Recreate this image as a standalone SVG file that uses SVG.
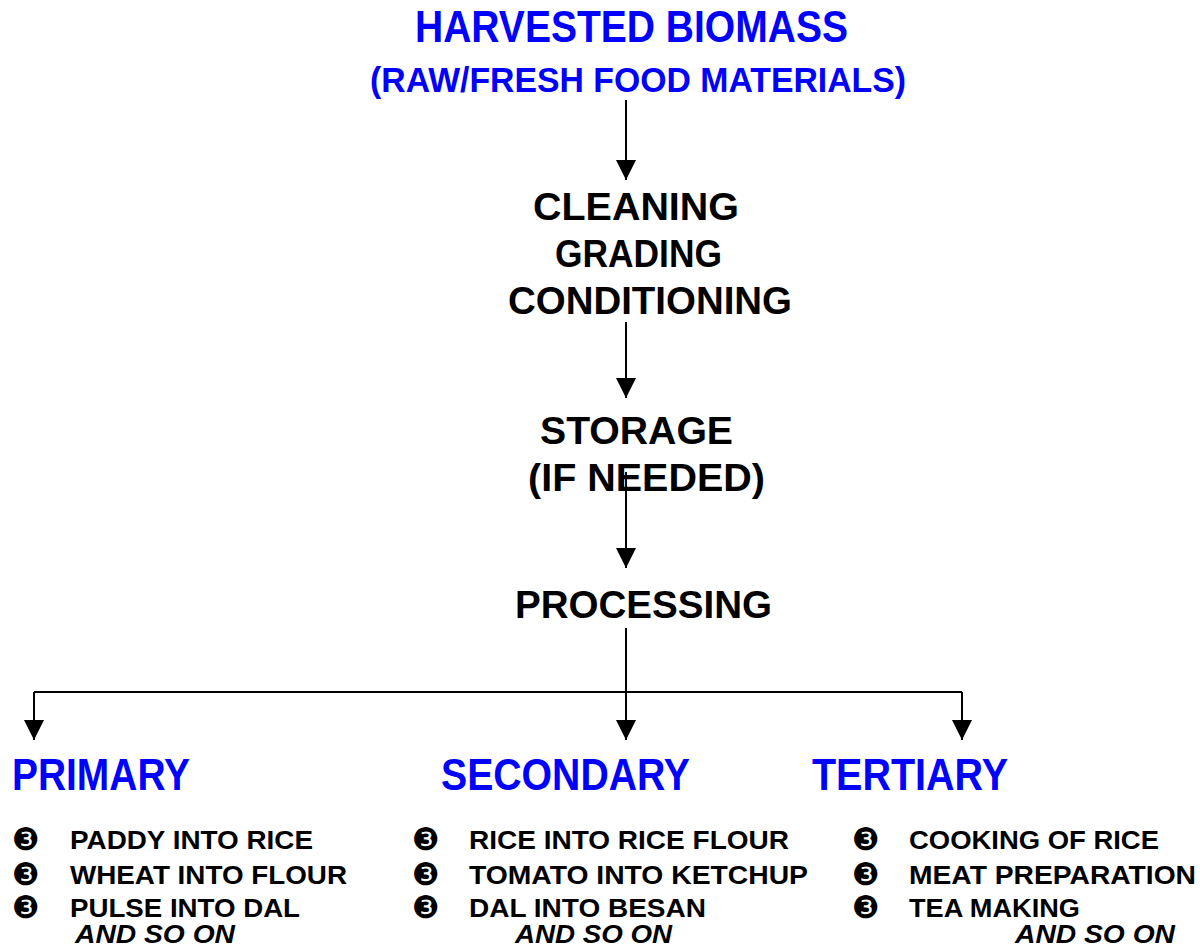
<svg xmlns="http://www.w3.org/2000/svg" width="1200" height="950" viewBox="0 0 1200 950">
<style>
text{font-family:"Liberation Sans",Arial,sans-serif;font-weight:bold;}
.blue{fill:#0000FF;}
.mid{fill:#000;font-size:38px;}
.head{font-size:44px;}
.item{fill:#000;font-size:25px;}
.etc{fill:#000;font-size:25px;font-style:italic;}
.bul{font-family:"DejaVu Sans",sans-serif;font-weight:normal;font-size:31px;fill:#000;}
.conn{stroke:#000;stroke-width:2;fill:none;}
</style>
<defs>
<marker id="ah" markerUnits="userSpaceOnUse" markerWidth="20" markerHeight="20" viewBox="0 0 20 20" refX="20" refY="10" orient="auto"><path d="M0,0 L20,10 L0,20 z" fill="#000"/></marker>
</defs>
<rect width="1200" height="950" fill="#fff"/>
<g id="connectors">
<path class="conn" d="M626,100 V180" marker-end="url(#ah)"/>
<path class="conn" d="M626,322 V398" marker-end="url(#ah)"/>
<path class="conn" d="M626,472 V568" marker-end="url(#ah)"/>
<path class="conn" d="M626,628 V740" marker-end="url(#ah)"/>
<path class="conn" d="M34,692 H962"/>
<path class="conn" d="M34,692 V740" marker-end="url(#ah)"/>
<path class="conn" d="M962,692 V740" marker-end="url(#ah)"/>
</g>
<g id="harvested">
<text class="blue" x="415" y="42" font-size="45" textLength="433" lengthAdjust="spacingAndGlyphs">HARVESTED BIOMASS</text>
<text class="blue" x="370" y="92" font-size="35" textLength="536" lengthAdjust="spacingAndGlyphs">(RAW/FRESH FOOD MATERIALS)</text>
</g>
<g id="cleaning">
<text class="mid" x="533" y="220" textLength="206" lengthAdjust="spacingAndGlyphs">CLEANING</text>
<text class="mid" x="555" y="267" textLength="167" lengthAdjust="spacingAndGlyphs">GRADING</text>
<text class="mid" x="508" y="314" textLength="284" lengthAdjust="spacingAndGlyphs">CONDITIONING</text>
</g>
<g id="storage">
<text class="mid" x="540" y="444" textLength="193" lengthAdjust="spacingAndGlyphs">STORAGE</text>
<text class="mid" x="528" y="491" textLength="237" lengthAdjust="spacingAndGlyphs">(IF NEEDED)</text>
</g>
<g id="processing">
<text class="mid" x="515" y="618" textLength="257" lengthAdjust="spacingAndGlyphs">PROCESSING</text>
</g>
<g id="primary">
<text class="blue head" x="12" y="790" textLength="178" lengthAdjust="spacingAndGlyphs">PRIMARY</text>
<text class="bul" x="12" y="850">❸</text>
<text class="bul" x="12" y="885">❸</text>
<text class="bul" x="12" y="918">❸</text>
<text class="item" x="70" y="849" textLength="243" lengthAdjust="spacingAndGlyphs">PADDY INTO RICE</text>
<text class="item" x="70" y="884" textLength="277" lengthAdjust="spacingAndGlyphs">WHEAT INTO FLOUR</text>
<text class="item" x="70" y="917" textLength="230" lengthAdjust="spacingAndGlyphs">PULSE INTO DAL</text>
<text class="etc" x="75" y="943" textLength="160" lengthAdjust="spacingAndGlyphs">AND SO ON</text>
</g>
<g id="secondary">
<text class="blue head" x="441" y="790" textLength="249" lengthAdjust="spacingAndGlyphs">SECONDARY</text>
<text class="bul" x="412" y="850">❸</text>
<text class="bul" x="412" y="885">❸</text>
<text class="bul" x="412" y="918">❸</text>
<text class="item" x="469" y="849" textLength="320" lengthAdjust="spacingAndGlyphs">RICE INTO RICE FLOUR</text>
<text class="item" x="469" y="884" textLength="339" lengthAdjust="spacingAndGlyphs">TOMATO INTO KETCHUP</text>
<text class="item" x="469" y="917" textLength="237" lengthAdjust="spacingAndGlyphs">DAL INTO BESAN</text>
<text class="etc" x="515" y="943" textLength="157" lengthAdjust="spacingAndGlyphs">AND SO ON</text>
</g>
<g id="tertiary">
<text class="blue head" x="812" y="790" textLength="196" lengthAdjust="spacingAndGlyphs">TERTIARY</text>
<text class="bul" x="852" y="850">❸</text>
<text class="bul" x="852" y="885">❸</text>
<text class="bul" x="852" y="918">❸</text>
<text class="item" x="909" y="849" textLength="250" lengthAdjust="spacingAndGlyphs">COOKING OF RICE</text>
<text class="item" x="909" y="884" textLength="287" lengthAdjust="spacingAndGlyphs">MEAT PREPARATION</text>
<text class="item" x="909" y="917" textLength="171" lengthAdjust="spacingAndGlyphs">TEA MAKING</text>
<text class="etc" x="1015" y="943" textLength="160" lengthAdjust="spacingAndGlyphs">AND SO ON</text>
</g>
</svg>
